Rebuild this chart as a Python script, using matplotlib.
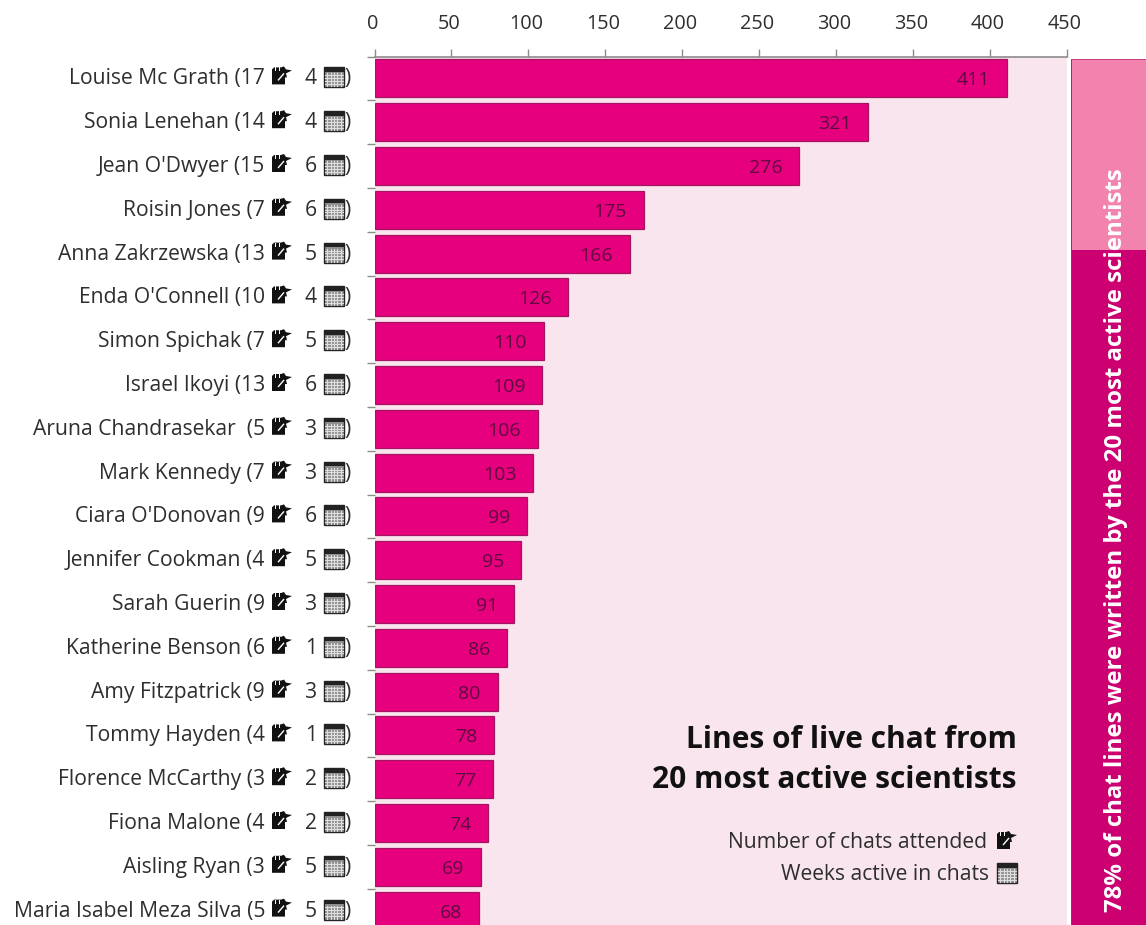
import matplotlib
matplotlib.use("Agg")
import matplotlib.pyplot as plt
from matplotlib.patches import Rectangle, Polygon

plt.rcParams['font.family'] = ['Open Sans', 'DejaVu Sans']

names = ["Louise Mc Grath", "Sonia Lenehan", "Jean O'Dwyer", "Roisin Jones", "Anna Zakrzewska",
         "Enda O'Connell", "Simon Spichak", "Israel Ikoyi", "Aruna Chandrasekar ", "Mark Kennedy",
         "Ciara O'Donovan", "Jennifer Cookman", "Sarah Guerin", "Katherine Benson", "Amy Fitzpatrick",
         "Tommy Hayden", "Florence McCarthy", "Fiona Malone", "Aisling Ryan", "Maria Isabel Meza Silva"]
chat_lines = [411, 321, 276, 175, 166, 126, 110, 109, 106, 103, 99, 95, 91, 86, 80, 78, 77, 74, 69, 68]
chats_attended = [17, 14, 15, 7, 13, 10, 7, 13, 5, 7, 9, 4, 9, 6, 9, 4, 3, 4, 3, 5]
weeks_active = [4, 4, 6, 6, 5, 4, 5, 6, 3, 3, 6, 5, 3, 1, 3, 1, 2, 2, 5, 5]
x_ticks = [0, 50, 100, 150, 200, 250, 300, 350, 400, 450]
share_top20 = 78
share_rest = 22

W, H = 1146, 925
AX_L, AX_R, AX_T = 374.5, 1066.5, 56.5
ROW0, PITCH = 78.4, 43.8
TXT = '#2E2E2E'


def rect(l, t, r, b):
    return [l / W, 1 - b / H, (r - l) / W, (b - t) / H]


fig = plt.figure(figsize=(W / 100, H / 100), dpi=100, facecolor='white')

ax = fig.add_axes(rect(AX_L, AX_T, AX_R, H))
ax.set_facecolor('#F9E5EE')
rows = list(range(len(names)))
ax.barh(rows, chat_lines, height=0.865, color='#E6007E', edgecolor='#A5155F', linewidth=0.9)
ax.xaxis.tick_top()
ax.set_xticks(x_ticks)
ax.set_xticklabels([])
ax.set_yticks([r + 0.5 for r in [-1] + rows])
ax.set_yticklabels([])
ax.set_xlim(0, 450)
ax.set_ylim((H - ROW0) / PITCH, (AX_T - ROW0) / PITCH)
ax.tick_params(axis='both', length=6, width=1, color='#8C8C8C')
for s in ['right', 'bottom', 'left']:
    ax.spines[s].set_visible(False)
ax.spines['top'].set_color('#8C8C8C')
ax.spines['top'].set_linewidth(1.2)
for r, v in zip(rows, chat_lines):
    ax.annotate(str(v), (v, r), xytext=(-12, -1.5), textcoords='offset points', ha='right', va='center',
                fontsize=14, color='#5E0A3F')

side = fig.add_axes(rect(1071, 59, W, H))
side.bar([0], [share_top20], width=1, color='#CC0070', edgecolor='none')
side.bar([0], [share_rest], bottom=[share_top20], width=1, color='#F283AE', edgecolor='none')
side.set_xlim(-0.5, 0.5)
side.set_ylim(0, 100)
side.axis('off')

ov = fig.add_axes([0, 0, 1, 1])
ov.set_xlim(0, W)
ov.set_ylim(H, 0)
ov.axis('off')
ov.patch.set_alpha(0)
ov.add_patch(Rectangle((1071, 59), 1, H - 59, color='#B5246F', lw=0))
ov.add_patch(Rectangle((1071, 59), W - 1071, 1, color='#C8407F', lw=0))


def note_icon(x, y):
    ov.add_patch(Polygon([(x, y - 7), (x + 2, y - 9), (x + 9, y - 9), (x + 12, y - 10), (x + 14, y - 7),
                          (x + 20, y - 6), (x + 14, y - 3), (x + 15, y + 1), (x + 13, y + 1), (x + 13, y + 8),
                          (x, y + 8)], closed=True, color='#111111', lw=0))
    ov.plot([x + 6, x + 12], [y + 4, y - 3], color='white', lw=1.0, solid_capstyle='butt')
    ov.plot([x + 3, x + 3], [y - 9, y - 6], color='white', lw=0.7)
    ov.plot([x + 7, x + 7], [y - 9, y - 6], color='white', lw=0.7)


def cal_icon(x, y):
    ov.add_patch(Rectangle((x, y - 10), 20, 20, facecolor='#8F8F8F', edgecolor='#222222', lw=1.0))
    ov.add_patch(Rectangle((x, y - 10), 20, 4.5, color='#222222', lw=0))
    for k in range(1, 6):
        ov.plot([x + k * 3.3, x + k * 3.3], [y - 4, y + 9], color='#DDDDDD', lw=0.8)
    for k in range(1, 5):
        ov.plot([x + 1, x + 19], [y - 5 + k * 2.9, y - 5 + k * 2.9], color='#DDDDDD', lw=0.8)


FS = 15.2
for r, name, c, w in zip(rows, names, chats_attended, weeks_active):
    y = ROW0 + r * PITCH
    ov.text(265, y + 0.5, f"{name} ({c}", ha='right', va='center', fontsize=FS, color=TXT)
    note_icon(272, y - 2)
    ov.text(311, y + 0.5, str(w), ha='center', va='center', fontsize=FS, color=TXT)
    cal_icon(324, y - 1)
    ov.text(344, y + 0.5, ")", ha='left', va='center', fontsize=FS, color=TXT)

for t in x_ticks:
    px = AX_L + t * (AX_R - AX_L) / 450 - 2
    ov.text(px, 24, str(t), ha='center', va='center', fontsize=14.3, color=TXT)

ov.text(1017, 740, "Lines of live chat from", ha='right', va='center', fontsize=21.5, fontweight='bold', color='#111111')
ov.text(1017, 780, "20 most active scientists", ha='right', va='center', fontsize=21.5, fontweight='bold', color='#111111')
ov.text(987, 843, "Number of chats attended", ha='right', va='center', fontsize=FS, color=TXT)
ov.text(989, 874, "Weeks active in chats", ha='right', va='center', fontsize=FS, color=TXT)
note_icon(997, 841)
cal_icon(997, 873)

ov.text(1116, 912, "78% of chat lines were written by the 20 most active scientists", rotation=90,
        ha='center', va='bottom', fontsize=17.3, fontweight='bold', color='white')

fig.savefig('out.png', dpi=100)
